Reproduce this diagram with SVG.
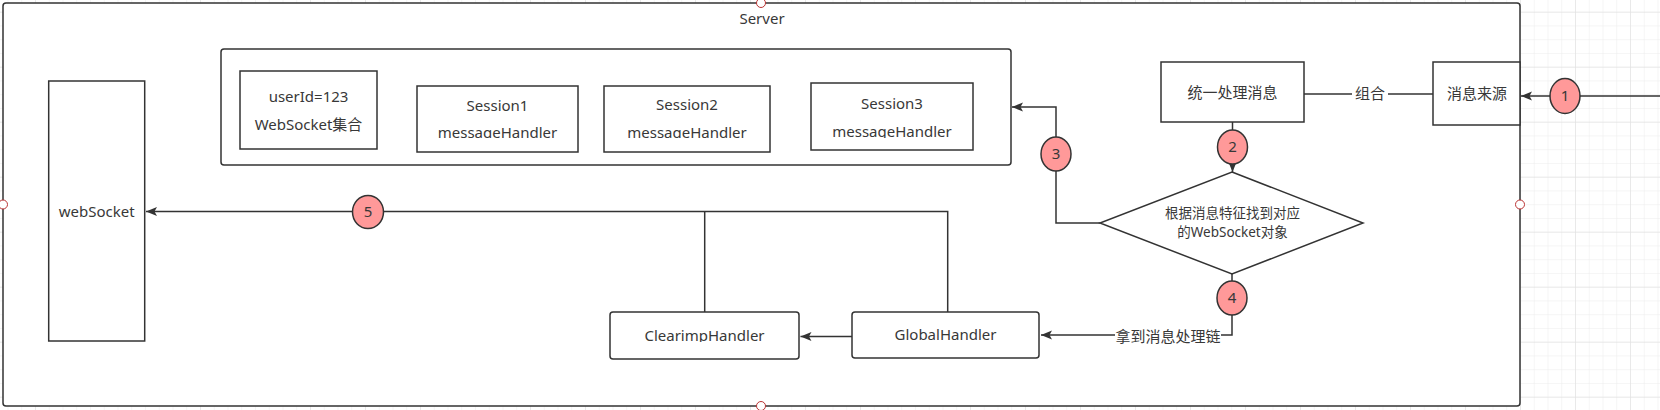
<svg xmlns="http://www.w3.org/2000/svg" width="1660" height="410" viewBox="0 0 1660 410">
<defs>
<pattern id="minor" patternUnits="userSpaceOnUse" x="35" y="11.7" width="13.75" height="13.75">
<path d="M0,0 H13.75 M0,0 V13.75" fill="none" stroke="#ececec" stroke-width="1"/>
</pattern>
<pattern id="major" patternUnits="userSpaceOnUse" x="35" y="11.7" width="55" height="55">
<path d="M0,0 H55 M0,0 V55" fill="none" stroke="#dedede" stroke-width="1"/>
</pattern>
<marker id="arr" markerUnits="userSpaceOnUse" markerWidth="12" markerHeight="10" refX="11" refY="4.5" orient="auto">
<path d="M0,0 L11,4.5 L0,9 L2.5,4.5 z" fill="#333"/>
</marker>
<clipPath id="clipS"><rect x="0" y="0" width="1660" height="138"/></clipPath>
<clipPath id="clipC"><rect x="0" y="0" width="1660" height="342"/></clipPath>
</defs>
<style>
.t{font-family:"Noto Sans","Noto Sans CJK SC",sans-serif;font-size:15px;fill:#383838;text-anchor:middle}
.sm{font-size:13.5px}
.box{fill:#fff;stroke:#333;stroke-width:1.5}
.ln{fill:none;stroke:#333;stroke-width:1.5}
.num{fill:#f99;stroke:#333;stroke-width:1.5}
.hd{fill:#fff;stroke:#b33;stroke-width:1}
</style>
<rect width="1660" height="410" fill="#fff"/>
<rect width="1660" height="410" fill="url(#minor)"/>
<rect width="1660" height="410" fill="url(#major)"/>

<g id="server">
<rect class="box" x="3" y="3" width="1517" height="403" rx="3"/>
<text class="t" x="762" y="19" dy="0.35em">Server</text>
</g>

<g id="sessions">
<rect class="box" x="221" y="49" width="790" height="116" rx="3"/>
</g>
<g id="userset">
<rect class="box" x="240" y="71" width="137" height="78"/>
<text class="t" x="308.5" y="97" dy="0.35em">userId=123</text>
<text class="t" x="308.5" y="125" dy="0.35em">WebSocket集合</text>
</g>
<g id="session1">
<rect class="box" x="417" y="86" width="161" height="66"/>
<text class="t" x="497.5" y="106" dy="0.35em">Session1</text>
<text class="t" x="497.5" y="133" dy="0.35em" clip-path="url(#clipS)">messageHandler</text>
</g>
<g id="session2">
<rect class="box" x="604" y="86" width="166" height="66"/>
<text class="t" x="687" y="105" dy="0.35em">Session2</text>
<text class="t" x="687" y="132.5" dy="0.35em" clip-path="url(#clipS)">messageHandler</text>
</g>
<g id="session3">
<rect class="box" x="811" y="83" width="162" height="67"/>
<text class="t" x="892" y="104" dy="0.35em">Session3</text>
<text class="t" x="892" y="132" dy="0.35em" clip-path="url(#clipS)">messageHandler</text>
</g>

<g id="websocket">
<rect class="box" x="48.7" y="81" width="96" height="260"/>
<text class="t" x="96.7" y="212" dy="0.35em">webSocket</text>
</g>

<g id="unify">
<rect class="box" x="1161" y="62" width="143" height="60"/>
<text class="t" x="1232.5" y="93" dy="0.35em">统一处理消息</text>
</g>
<g id="source">
<rect class="box" x="1433" y="62" width="87" height="63"/>
<text class="t" x="1477" y="94" dy="0.35em">消息来源</text>
</g>
<g id="decision">
<path class="box" d="M1232,172 L1363,223 L1232,274 L1100,223 Z"/>
<text class="t sm" x="1232.5" y="213.5" dy="0.35em">根据消息特征找到对应</text>
<text class="t sm" x="1232.5" y="232.5" dy="0.35em">的WebSocket对象</text>
</g>
<g id="global">
<rect class="box" x="852" y="312" width="187" height="46" rx="3"/>
<text class="t" x="945.5" y="335" dy="0.35em">GlobalHandler</text>
</g>
<g id="clearimp">
<rect class="box" x="610" y="312" width="189" height="47" rx="3"/>
<text class="t" x="704.5" y="336" dy="0.35em" clip-path="url(#clipC)">ClearimpHandler</text>
</g>

<g id="connectors">
<path class="ln" d="M1660,96 L1521,96" marker-end="url(#arr)"/>
<path class="ln" d="M1433,94 L1304,94"/>
<rect x="1352" y="85" width="36" height="18" fill="#fff"/>
<text class="t" x="1370" y="94" dy="0.35em">组合</text>
<path class="ln" d="M1232.5,122 L1232.5,172" marker-end="url(#arr)"/>
<path class="ln" d="M1100,223 L1056,223 L1056,107 L1012,107" marker-end="url(#arr)"/>
<path class="ln" d="M1232,274 L1232,335 L1041,335" marker-end="url(#arr)"/>
<rect x="1115" y="327" width="106" height="18" fill="#fff"/>
<text class="t" x="1168" y="337" dy="0.35em">拿到消息处理链</text>
<path class="ln" d="M852,336.5 L800.5,336.5" marker-end="url(#arr)"/>
<path class="ln" d="M704.7,312 L704.7,211.5"/>
<path class="ln" d="M947.7,312 L947.7,211.5 L146,211.5" marker-end="url(#arr)"/>
<ellipse class="num" cx="1565" cy="96" rx="15" ry="17.5"/>
<text class="t" x="1565" y="96" dy="0.35em">1</text>
<ellipse class="num" cx="1232.5" cy="147" rx="15" ry="17"/>
<text class="t" x="1232.5" y="147" dy="0.35em">2</text>
<ellipse class="num" cx="1056" cy="154" rx="15" ry="17"/>
<text class="t" x="1056" y="154" dy="0.35em">3</text>
<ellipse class="num" cx="1232" cy="298" rx="15" ry="17"/>
<text class="t" x="1232" y="298" dy="0.35em">4</text>
<ellipse class="num" cx="368" cy="212" rx="15.5" ry="16.5"/>
<text class="t" x="368" y="212" dy="0.35em">5</text>
</g>

<g id="handles">
<circle class="hd" cx="761" cy="3" r="4.5"/>
<circle class="hd" cx="761" cy="406" r="4.5"/>
<circle class="hd" cx="3" cy="204.5" r="4.5"/>
<circle class="hd" cx="1520" cy="204.5" r="4.5"/>
</g>
</svg>
